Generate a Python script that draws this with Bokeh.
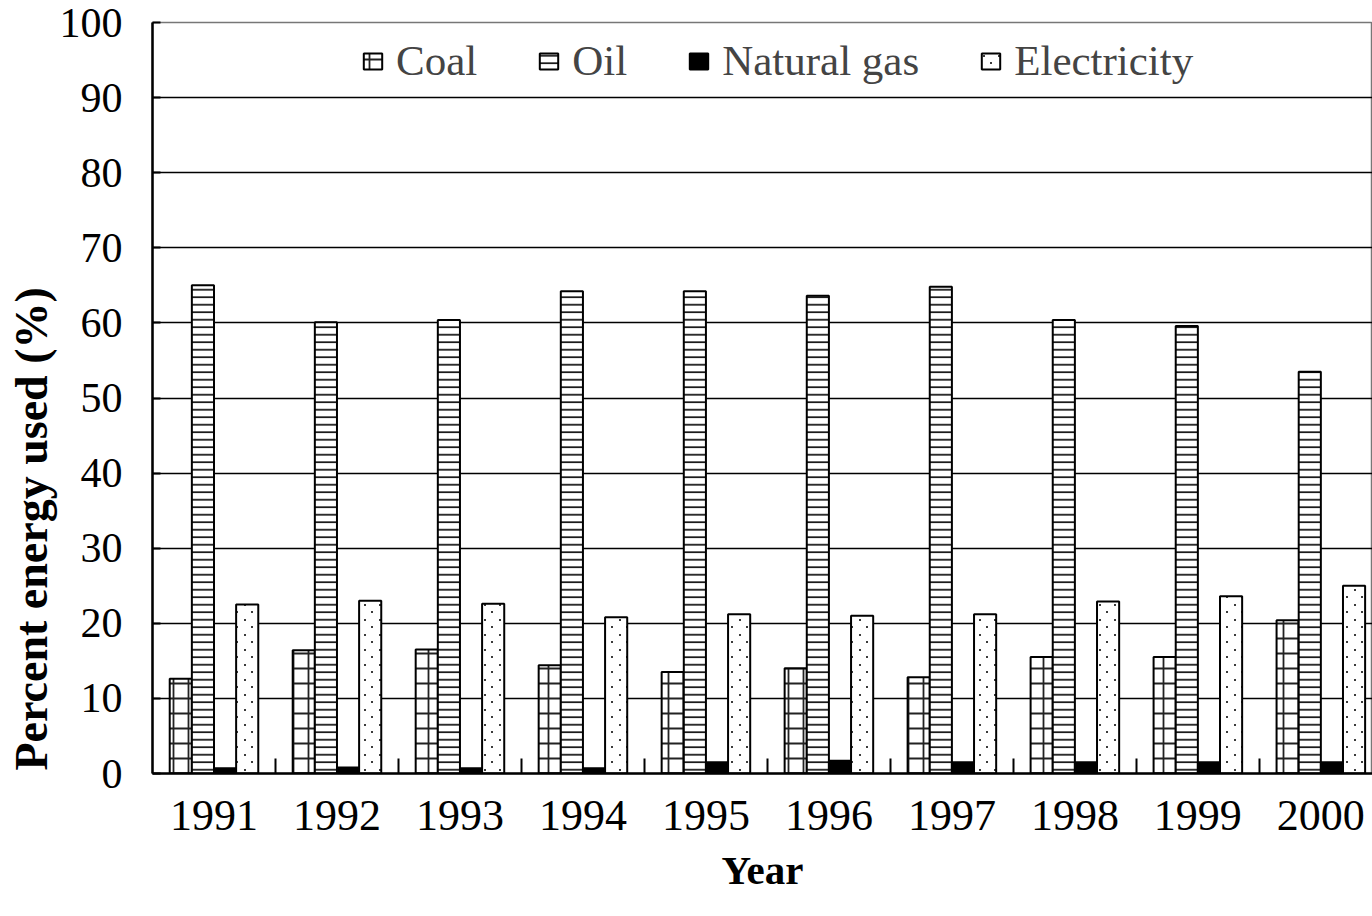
import zlib, struct, base64
import numpy as np
from bokeh.plotting import figure
from bokeh.core.properties import value
from bokeh.models import (ColumnDataSource, FixedTicker, Legend, LegendItem,
                          Title, Range1d, ImageURLTexture)
from bokeh.transform import dodge
from bokeh.embed import file_html
from bokeh.resources import INLINE

# ---- data ----
years = ["1991", "1992", "1993", "1994", "1995", "1996", "1997", "1998", "1999", "2000"]
coal = [12.6, 16.4, 16.5, 14.4, 13.5, 14.0, 12.8, 15.5, 15.5, 20.4]
oil = [65.0, 60.1, 60.4, 64.2, 64.2, 63.6, 64.8, 60.4, 59.6, 53.5]
natural_gas = [0.7, 0.8, 0.7, 0.7, 1.5, 1.7, 1.5, 1.5, 1.5, 1.5]
electricity = [22.5, 23.0, 22.6, 20.8, 21.2, 21.0, 21.2, 22.9, 23.6, 25.0]
y_ticks = [0, 10, 20, 30, 40, 50, 60, 70, 80, 90, 100]

FONT = "Liberation Serif"

n = len(years)
centers = [i + 0.5 for i in range(n)]
boundaries = [float(i) for i in range(1, n)]

src = ColumnDataSource(dict(x=centers, coal=coal, oil=oil, gas=natural_gas,
                            elec=electricity))


# small texture tile: sparse staggered dots (the reference's dotted fill)
def dot_tile_uri(size=15, dots=((4, 4), (11, 11)), rgba=(60, 60, 60, 255)):
    px = [[(0, 0, 0, 0)] * size for _ in range(size)]
    for cx, cy in dots:
        for dx in (0, 1):
            for dy in (0, 1):
                px[cy + dy][cx + dx] = rgba
    raw = b"".join(b"\x00" + bytes([c for pix in row for c in pix]) for row in px)

    def chunk(t, d):
        return (struct.pack(">I", len(d)) + t + d +
                struct.pack(">I", zlib.crc32(t + d) & 0xffffffff))

    ihdr = struct.pack(">IIBBBBB", size, size, 8, 6, 0, 0, 0)
    png = (b"\x89PNG\r\n\x1a\n" + chunk(b"IHDR", ihdr) +
           chunk(b"IDAT", zlib.compress(raw)) + chunk(b"IEND", b""))
    return "data:image/png;base64," + base64.b64encode(png).decode()


dots_tex = ImageURLTexture(url=dot_tile_uri(), repetition="repeat")

W, H = 1372, 912
p = figure(width=W, height=H, output_backend="svg", toolbar_location=None,
           x_range=Range1d(0, 9.92), y_range=Range1d(0, 100),
           min_border_left=152, min_border_top=22, min_border_bottom=H - 773,
           min_border_right=0)

p.outline_line_color = "#777777"
p.outline_line_width = 1.5

bw = 0.18
common = dict(source=src, width=bw, line_color="black", line_width=2)
r_coal = p.vbar(x=dodge("x", -0.27), top="coal", fill_color="white",
                hatch_pattern="+", hatch_scale=15, hatch_weight=1.8,
                hatch_color="#222222", **common)
r_oil = p.vbar(x=dodge("x", -0.09), top="oil", fill_color="white",
               hatch_pattern="-", hatch_scale=7.5, hatch_weight=1.6,
               hatch_color="black", **common)
r_gas = p.vbar(x=dodge("x", 0.09), top="gas", fill_color="black", **common)
r_elec = p.vbar(x=dodge("x", 0.27), top="elec", fill_color="white",
                hatch_pattern=value("dots"), hatch_extra={"dots": dots_tex},
                **common)

# ---- axes ----
xa = p.xaxis[0]
xa.ticker = FixedTicker(ticks=centers, minor_ticks=boundaries)
xa.major_label_overrides = {c: y for c, y in zip(centers, years)}
xa.major_tick_in = 0
xa.major_tick_out = 0
xa.minor_tick_in = 15
xa.minor_tick_out = 0
xa.minor_tick_line_width = 2
xa.axis_line_width = 2.5
xa.major_label_standoff = 27
xa.major_label_text_font = FONT
xa.major_label_text_font_size = "44px"
xa.major_label_text_color = "black"
xa.axis_label = "Year"
xa.axis_label_text_font = FONT
xa.axis_label_text_font_style = "bold"
xa.axis_label_text_font_size = "41px"
xa.axis_label_standoff = 14
xa.axis_label_text_color = "black"

ya = p.yaxis[0]
ya.ticker = FixedTicker(ticks=y_ticks)
ya.major_tick_in = 8
ya.major_tick_out = 0
ya.major_tick_line_width = 2
ya.minor_tick_line_color = None
ya.axis_line_width = 2.5
ya.major_label_standoff = 30
ya.major_label_text_font = FONT
ya.major_label_text_font_size = "42px"
ya.major_label_text_color = "black"

p.xgrid.grid_line_color = None
p.ygrid.ticker = FixedTicker(ticks=y_ticks[1:-1])
p.ygrid.grid_line_color = "black"
p.ygrid.grid_line_width = 1.5

# y axis title: starts near the bottom of the frame as in the reference
ytitle = Title(text="Percent energy used (%)", align="left", offset=3,
               text_font=FONT, text_font_style="bold", text_font_size="46px",
               text_color="black", standoff=0)
p.add_layout(ytitle, "left")

# ---- legend ----
legend = Legend(items=[LegendItem(label="Coal", renderers=[r_coal]),
                       LegendItem(label="Oil", renderers=[r_oil]),
                       LegendItem(label="Natural gas", renderers=[r_gas]),
                       LegendItem(label="Electricity", renderers=[r_elec])],
                orientation="horizontal", location=(209, 688),
                border_line_color=None, background_fill_alpha=0,
                label_text_font=FONT, label_text_font_size="43px",
                glyph_width=23, glyph_height=20, spacing=60,
                label_standoff=12, padding=0, margin=0)
p.add_layout(legend)

open("out.html", "w").write(file_html(p, INLINE))
